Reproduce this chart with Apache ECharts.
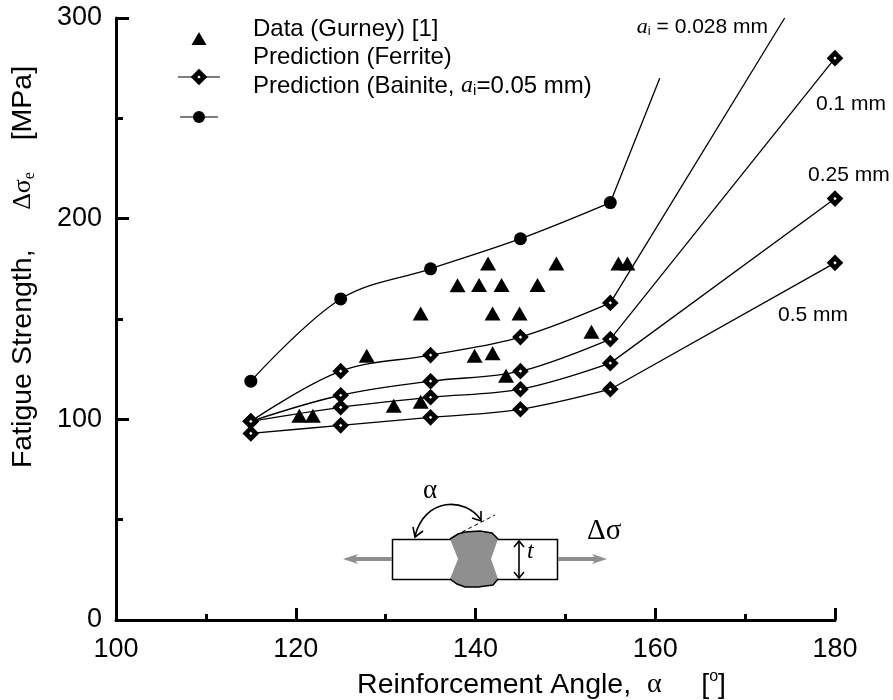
<!DOCTYPE html>
<html><head><meta charset="utf-8">
<style>html,body{margin:0;padding:0;background:#fff}#c{width:893px;height:700px}</style>
<script src="https://cdn.jsdelivr.net/npm/echarts@6/dist/echarts.min.js"></script>
</head><body><div id="c"></div>
<script>
const angles = [115,125,135,145,155];
const ferrite028 = [99,124,132,141,158];
const ferrite010 = [99,112,119,124,140];
const ferrite025 = [99,106,111,115,128];
const ferrite050 = [93,97,101,105,115];
const bainite = [119,160,175,190,208];
// straight end pieces leaving the 155 deg point: [angle, value]
const tail028 = [[155,158],[174.4,300]];
const tail010 = [[155,140],[180,280]];
const tail025 = [[155,128],[180,210]];
const tail050 = [[155,115],[180,178]];
const tailBainite = [[155,208],[160.5,270]];
const gurney = [[141.4,177.7],[149,177.7],[155.9,177.7],[156.9,177.7],[138,166.8],[140.4,167],[142.9,167],[146.9,167],
 [133.9,152.8],[141.9,152.8],[144.9,152.8],[152.9,143.6],[127.9,131.7],[139.9,131.7],[141.9,132.9],[143.4,121.7],
 [130.9,106.8],[133.9,108.8],[120.4,101.8],[121.9,101.8]];

const SANS='"Liberation Sans",Arial,sans-serif', SERIF='"Liberation Serif","Times New Roman",serif';
const diamond={symbol:'diamond',symbolSize:10,itemStyle:{color:'#fff',borderColor:'#000',borderWidth:4.7}};
const circle={symbol:'circle',symbolSize:13,itemStyle:{color:'#000'}};
const ls={color:'#000',width:1.3};
function curve(name,vals,mark){return Object.assign({type:'line',name,data:vals.map((v,i)=>[angles[i],v]),smooth:0.35,
  lineStyle:ls,z:3,animation:false},mark);}
function tail(name,pts,showEnd,mark){return Object.assign({type:'line',name,data:pts,lineStyle:ls,z:2,animation:false,clip:true,
  symbol:(v,p)=>(showEnd&&p.dataIndex===1)?mark.symbol:'none',symbolSize:mark.symbolSize,itemStyle:mark.itemStyle});}

const T=(x,y,text,size,extra)=>({type:'text',x,y,z:20,style:Object.assign({text,fontFamily:SANS,fontSize:size,fill:'#000',textVerticalAlign:'middle'},extra||{})});
const rich={a:{fontFamily:SERIF,fontStyle:'italic',fontSize:24,fill:'#000'},i:{fontFamily:SANS,fontSize:15,fill:'#000',verticalAlign:'bottom'}};
const graphic=[
 T(253,29,'Data (Gurney) [1]',24),
 T(253,57,'Prediction (Ferrite)',24),
 T(253,86,'Prediction (Bainite, {a|a}{i|i}=0.05 mm)',24,{rich}),
 {type:'polygon',z:20,shape:{points:[[199,32],[191.5,45],[206.5,45]]},style:{fill:'#000'}},
 {type:'line',z:19,shape:{x1:178,y1:77,x2:220,y2:77},style:{stroke:'#000',lineWidth:1.2}},
 {type:'polygon',z:20,shape:{points:[[199,72],[204,77],[199,82],[194,77]]},style:{fill:'#fff',stroke:'#000',lineWidth:4.7}},
 {type:'line',z:19,shape:{x1:180,y1:117,x2:218,y2:117},style:{stroke:'#000',lineWidth:1.2}},
 {type:'circle',z:20,shape:{cx:199,cy:117,r:6},style:{fill:'#000'}},
 T(768,27,'{a|a}{i|i} = 0.028 mm',21,{textAlign:'right',rich:{a:{fontFamily:SERIF,fontStyle:'italic',fontSize:22,fill:'#000'},i:{fontFamily:SANS,fontSize:13,fill:'#000',verticalAlign:'bottom'}}}),
 T(816,104,'0.1 mm',21),
 T(808,175,'0.25 mm',21),
 T(778,315,'0.5 mm',21),
 // inset sketch
 {type:'rect',z:5,shape:{x:392.5,y:539.5,width:165,height:40},style:{fill:'#fff',stroke:'#000',lineWidth:1.5}},
 {type:'polygon',z:6,shape:{points:[[450,539],[458,534],[465,532],[480,531],[492,533],[498,539],[491,559],[498,579],[493,585],[478,587],[465,587],[457,584],[450,579],[458,559]]},style:{fill:'#8f8f8f'}},
 {type:'polyline',z:7,shape:{points:[[450,539],[458,534],[465,532],[480,531],[492,533],[498,539]]},style:{stroke:'#000',lineWidth:1.5,fill:'none'}},
 {type:'polyline',z:7,shape:{points:[[450,579],[457,584],[465,587],[478,587],[493,585],[498,579]]},style:{stroke:'#000',lineWidth:1.5,fill:'none'}},
 {type:'line',z:7,shape:{x1:462,y1:532,x2:495,y2:515},style:{stroke:'#000',lineWidth:1,lineDash:[4,3]}},
 {type:'bezierCurve',z:7,shape:{x1:415,y1:536,cpx1:425,cpy1:497,cpx2:465,cpy2:497,x2:481,y2:520},style:{stroke:'#000',lineWidth:1.6,fill:'none'}},
 {type:'polyline',z:7,shape:{points:[[413,527],[415,537],[423,531]]},style:{stroke:'#000',lineWidth:1.6,fill:'none'}},
 {type:'polyline',z:7,shape:{points:[[481,511],[481,521],[472,518]]},style:{stroke:'#000',lineWidth:1.6,fill:'none'}},
 {type:'line',z:7,shape:{x1:519,y1:541,x2:519,y2:578},style:{stroke:'#000',lineWidth:1.6}},
 {type:'polyline',z:7,shape:{points:[[514,547],[519,541],[524,547]]},style:{stroke:'#000',lineWidth:1.6,fill:'none'}},
 {type:'polyline',z:7,shape:{points:[[514,572],[519,578],[524,572]]},style:{stroke:'#000',lineWidth:1.6,fill:'none'}},
 {type:'rect',z:5,shape:{x:352,y:557,width:40,height:4},style:{fill:'#8f8f8f'}},
 {type:'polygon',z:5,shape:{points:[[343,559],[358,554],[354,559],[358,564]]},style:{fill:'#8f8f8f'}},
 {type:'rect',z:5,shape:{x:558,y:557,width:42,height:4},style:{fill:'#8f8f8f'}},
 {type:'polygon',z:5,shape:{points:[[607,559],[592,554],[596,559],[592,564]]},style:{fill:'#8f8f8f'}},
 T(527,552,'t',24,{fontFamily:SERIF,fontStyle:'italic'}),
 T(587,531,'Δσ',29,{fontFamily:SERIF}),
 T(423,491,'α',27,{fontFamily:SERIF})
];
const gridBlack={lineStyle:{color:'#000',width:3}};
const opt={
 backgroundColor:'#fff',animation:false,
 grid:{left:116,right:58,top:18,bottom:80,containLabel:false,outerBoundsMode:'none'},
 xAxis:{type:'value',min:100,max:180,interval:20,
  axisLine:{show:true,onZero:false,...gridBlack},
  axisTick:{show:true,inside:true,length:12,...gridBlack},
  minorTick:{show:true,splitNumber:2,length:6,lineStyle:{color:'#000',width:3}},
  splitLine:{show:false},minorSplitLine:{show:false},
  axisLabel:{color:'#000',fontFamily:SANS,fontSize:27,margin:16,showMinLabel:true,showMaxLabel:true},
  name:'Reinforcement Angle,  {g|α}     [{s|o}]',nameLocation:'middle',nameGap:49,
  nameTextStyle:{color:'#000',fontFamily:SANS,fontSize:28.5,padding:[0,0,0,132],rich:{g:{fontFamily:SERIF,fontSize:28,color:'#000'},s:{fontFamily:SANS,fontSize:16,color:'#000',verticalAlign:'top',lineHeight:32}}}},
 yAxis:{type:'value',min:0,max:300,interval:100,
  axisLine:{show:true,onZero:false,...gridBlack},
  axisTick:{show:true,inside:true,length:13,...gridBlack},
  minorTick:{show:true,splitNumber:2,length:7,lineStyle:{color:'#000',width:3}},
  splitLine:{show:false},minorSplitLine:{show:false},
  axisLabel:{color:'#000',fontFamily:SANS,fontSize:27,margin:14,showMinLabel:true,showMaxLabel:true},
  name:'Fatigue Strength,     {g|Δσ}{e|e}    [MPa]',nameLocation:'middle',nameGap:78,
  nameTextStyle:{color:'#000',fontFamily:SANS,fontSize:28.5,padding:[0,0,0,104],rich:{g:{fontFamily:SERIF,fontSize:26,color:'#000'},e:{fontFamily:SERIF,fontSize:16,color:'#000',verticalAlign:'bottom'}}}},
 series:[
  curve('Prediction (Bainite)',bainite,circle),tail('Bainite end',tailBainite,false,circle),
  curve('a=0.028 mm',ferrite028,diamond),tail('a=0.028 end',tail028,false,diamond),
  curve('a=0.1 mm',ferrite010,diamond),tail('a=0.1 end',tail010,true,diamond),
  curve('a=0.25 mm',ferrite025,diamond),tail('a=0.25 end',tail025,true,diamond),
  curve('a=0.5 mm',ferrite050,diamond),tail('a=0.5 end',tail050,true,diamond),
  {type:'scatter',name:'Data (Gurney) [1]',data:gurney,symbol:'triangle',symbolSize:[16,14],itemStyle:{color:'#000',opacity:1},z:4,animation:false}
 ],
 graphic
};
echarts.init(document.getElementById('c'),null,{renderer:'canvas'}).setOption(opt);
</script></body></html>
